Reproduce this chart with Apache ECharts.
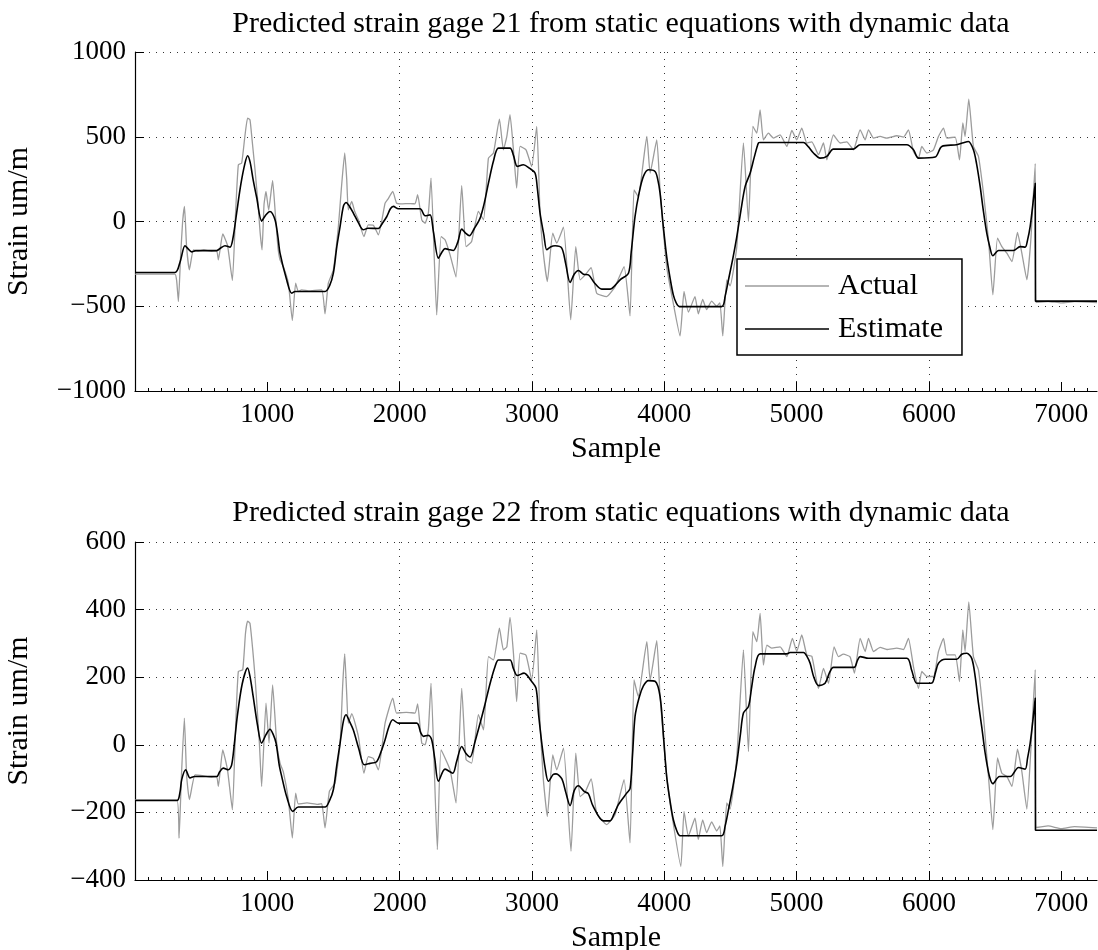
<!DOCTYPE html>
<html><head><meta charset="utf-8">
<script src="https://cdn.jsdelivr.net/npm/echarts@6/dist/echarts.min.js"></script>
<style>html,body{margin:0;padding:0;background:#fff}#c{width:1098px;height:950px}</style>
</head><body><div id="c"></div>
<script>
const titles = ["Predicted strain gage 21 from static equations with dynamic data",
                "Predicted strain gage 22 from static equations with dynamic data"];
const xTicks = [1000,2000,3000,4000,5000,6000,7000];
const topYTicks = [-1000,-500,0,500,1000];
const botYTicks = [-400,-200,0,200,400,600];

const top_estimate = [[0,-301],[302,-301],[340,-240],[378,-143],[400,-160],[428,-179],[460,-172],[617,-172],[650,-155],[680,-143],[718,-151],[740,-100],[768,50],[800,220],[830,340],[851,388],[870,350],[893,246],[920,140],[957,4],[990,40],[1020,59],[1058,10],[1080,-90],[1096,-187],[1146,-344],[1184,-423],[1210,-413],[1436,-413],[1470,-380],[1499,-305],[1525,-150],[1550,-29],[1575,90],[1595,112],[1620,90],[1650,50],[1690,-10],[1726,-49],[1760,-40],[1839,-41],[1870,-10],[1902,28],[1930,75],[1953,89],[1990,75],[2154,75],[2192,34],[2230,39],[2255,-60],[2293,-216],[2320,-180],[2343,-160],[2370,-165],[2406,-171],[2440,-120],[2469,-45],[2500,-70],[2527,-84],[2565,-40],[2608,20],[2640,110],[2671,226],[2710,360],[2747,433],[2834,433],[2860,390],[2889,325],[2935,335],[2980,315],[3023,286],[3040,200],[3061,50],[3090,-80],[3112,-167],[3140,-150],[3175,-143],[3225,-157],[3255,-250],[3288,-360],[3320,-310],[3351,-289],[3389,-311],[3427,-315],[3470,-360],[3527,-399],[3590,-399],[3630,-375],[3666,-344],[3729,-305],[3750,-180],[3779,30],[3810,170],[3842,266],[3880,305],[3930,295],[3950,250],[3968,167],[3990,-10],[4018,-207],[4045,-340],[4068,-433],[4090,-480],[4114,-502],[4434,-502],[4460,-440],[4485,-344],[4520,-210],[4548,-89],[4580,70],[4611,207],[4649,286],[4680,380],[4711,463],[4724,466],[5052,466],[5090,440],[5127,404],[5178,374],[5228,384],[5278,427],[5429,427],[5480,453],[5833,453],[5883,423],[5921,374],[6047,380],[6097,443],[6210,453],[6260,465],[6298,472],[6336,423],[6360,340],[6387,207],[6410,70],[6437,-69],[6460,-150],[6483,-202],[6526,-171],[6639,-171],[6689,-148],[6727,-151],[6745,-110],[6765,-29],[6785,100],[6803,226],[6805,-470],[7270,-470]];

const top_actual = [[0,-310],[302,-310],[315,-350],[328,-472],[345,-200],[360,0],[374,89],[390,-150],[411,-285],[441,-167],[470,-175],[520,-168],[580,-176],[617,-172],[630,-226],[663,-73],[699,-140],[736,-348],[760,50],[781,335],[806,344],[830,500],[851,610],[869,600],[885,480],[907,305],[930,100],[945,-60],[960,-167],[975,100],[990,177],[1010,67],[1040,242],[1060,50],[1080,-150],[1096,-226],[1121,-266],[1159,-364],[1189,-584],[1214,-364],[1234,-413],[1260,-403],[1320,-410],[1411,-403],[1436,-545],[1461,-364],[1499,-285],[1537,-29],[1560,200],[1585,404],[1600,250],[1612,69],[1638,118],[1660,60],[1688,10],[1730,-89],[1763,-20],[1801,-22],[1839,-79],[1890,108],[1910,130],[1948,177],[1977,108],[2010,104],[2080,106],[2116,104],[2136,158],[2167,10],[2192,-10],[2217,50],[2237,256],[2280,-551],[2313,-89],[2343,-108],[2381,-197],[2426,-328],[2469,211],[2502,-148],[2544,-118],[2595,59],[2634,10],[2671,374],[2709,404],[2754,604],[2784,423],[2810,502],[2834,630],[2860,423],[2884,197],[2910,443],[2955,423],[2998,325],[3036,561],[3061,50],[3086,-187],[3116,-354],[3157,-69],[3187,-128],[3238,-33],[3293,-580],[3331,-148],[3364,-344],[3402,-315],[3447,-272],[3489,-423],[3565,-443],[3628,-384],[3696,-266],[3741,-557],[3771,187],[3803,148],[3868,502],[3893,286],[3943,482],[3968,187],[4018,-266],[4063,-462],[4119,-675],[4149,-413],[4182,-535],[4232,-443],[4257,-545],[4290,-460],[4320,-520],[4358,-470],[4396,-500],[4420,-480],[4442,-675],[4472,-344],[4497,-380],[4548,-148],[4598,463],[4636,0],[4669,561],[4699,521],[4724,659],[4749,482],[4787,521],[4825,492],[4875,511],[4926,443],[4964,537],[5001,482],[5039,551],[5077,463],[5115,470],[5165,394],[5203,463],[5228,364],[5278,511],[5329,463],[5379,470],[5429,423],[5480,541],[5518,482],[5543,541],[5581,492],[5631,502],[5682,492],[5757,506],[5808,498],[5845,541],[5883,413],[5921,374],[5946,443],[5984,404],[6034,423],[6072,502],[6110,551],[6135,492],[6198,498],[6231,364],[6256,581],[6273,502],[6301,722],[6336,443],[6374,384],[6412,167],[6450,-108],[6483,-433],[6518,-98],[6551,-148],[6589,-187],[6627,-236],[6669,-65],[6702,-187],[6740,-344],[6770,-108],[6803,341],[6808,-478],[6900,-472],[7000,-480],[7100,-473],[7270,-478]];

const bot_estimate = [[0,-165],[316,-165],[340,-140],[353,-103],[383,-74],[416,-98],[450,-94],[617,-94],[640,-80],[667,-69],[705,-74],[730,-60],[750,0],[773,84],[810,180],[851,227],[870,200],[893,143],[925,60],[957,5],[990,30],[1020,46],[1045,30],[1066,5],[1090,-60],[1109,-94],[1146,-153],[1192,-197],[1234,-184],[1436,-184],[1470,-165],[1499,-133],[1525,-60],[1550,5],[1575,70],[1595,89],[1620,70],[1650,44],[1690,-10],[1733,-59],[1776,-55],[1826,-50],[1860,-20],[1890,15],[1920,55],[1948,74],[1990,64],[2129,64],[2160,35],[2179,25],[2217,28],[2242,15],[2265,-40],[2293,-108],[2343,-72],[2401,-84],[2430,-50],[2469,-5],[2500,-25],[2532,-36],[2570,10],[2608,64],[2645,120],[2684,182],[2720,230],[2747,251],[2834,251],[2860,225],[2889,205],[2940,212],[2998,187],[3031,167],[3050,90],[3074,5],[3100,-70],[3124,-108],[3160,-88],[3182,-86],[3225,-100],[3255,-140],[3288,-180],[3320,-135],[3351,-121],[3394,-138],[3427,-145],[3460,-180],[3540,-225],[3590,-225],[3620,-205],[3653,-177],[3716,-143],[3741,-130],[3760,-30],[3779,84],[3810,140],[3842,174],[3880,190],[3930,188],[3968,143],[3995,20],[4018,-94],[4045,-170],[4068,-221],[4095,-255],[4119,-269],[4434,-269],[4460,-240],[4485,-192],[4520,-120],[4548,-54],[4575,30],[4598,94],[4636,113],[4660,170],[4686,231],[4724,269],[4925,269],[4950,273],[5052,273],[5080,260],[5102,241],[5130,200],[5165,175],[5215,182],[5250,215],[5278,229],[5434,229],[5460,250],[5480,261],[5543,256],[5833,256],[5870,220],[5908,182],[5959,182],[6022,183],[6050,215],[6072,241],[6122,253],[6210,253],[6248,268],[6286,271],[6324,255],[6350,200],[6374,123],[6400,50],[6425,-25],[6455,-90],[6483,-115],[6533,-94],[6614,-94],[6677,-67],[6727,-72],[6745,-40],[6765,5],[6785,70],[6803,138],[6805,-253],[7270,-253]];

const bot_actual = [[0,-163],[316,-163],[333,-276],[350,-100],[373,79],[390,-90],[411,-162],[454,-89],[520,-92],[580,-96],[617,-94],[630,-123],[663,-15],[699,-74],[736,-192],[760,50],[781,217],[814,222],[835,330],[851,366],[869,359],[890,280],[907,202],[940,5],[957,-123],[990,123],[1013,5],[1040,177],[1071,5],[1096,-54],[1121,-80],[1159,-162],[1189,-276],[1214,-143],[1234,-175],[1300,-172],[1380,-176],[1411,-174],[1436,-246],[1469,-138],[1512,-113],[1550,5],[1570,180],[1585,269],[1600,150],[1612,64],[1638,92],[1688,25],[1730,-84],[1763,-35],[1801,-40],[1839,-74],[1890,64],[1948,138],[1977,94],[2050,96],[2116,94],[2136,121],[2167,5],[2192,0],[2217,46],[2237,182],[2285,-310],[2313,-15],[2381,-74],[2426,-172],[2469,167],[2502,-44],[2544,-54],[2595,89],[2634,44],[2671,261],[2709,251],[2754,345],[2784,281],[2810,290],[2834,377],[2860,271],[2884,128],[2910,271],[2955,265],[2998,192],[3036,340],[3061,64],[3086,-103],[3116,-212],[3157,-30],[3187,-74],[3238,-10],[3295,-315],[3331,-25],[3364,-153],[3402,-140],[3447,-101],[3489,-202],[3565,-236],[3628,-206],[3696,-103],[3741,-290],[3771,192],[3803,143],[3868,305],[3893,192],[3943,308],[3968,143],[4018,-94],[4063,-221],[4125,-360],[4149,-197],[4182,-270],[4232,-217],[4257,-280],[4290,-222],[4320,-260],[4358,-228],[4396,-255],[4420,-240],[4442,-360],[4472,-172],[4497,-190],[4548,-35],[4598,281],[4636,-20],[4669,335],[4699,305],[4724,389],[4749,236],[4775,295],[4812,286],[4875,290],[4926,261],[4968,315],[5001,276],[5039,325],[5077,266],[5115,262],[5165,167],[5203,226],[5241,182],[5283,290],[5316,261],[5354,268],[5404,260],[5437,212],[5480,315],[5518,276],[5543,315],[5581,276],[5631,288],[5682,282],[5757,286],[5808,282],[5845,315],[5883,231],[5921,167],[5946,217],[5984,202],[6034,202],[6072,276],[6110,315],[6135,266],[6198,266],[6231,187],[6256,340],[6273,276],[6301,423],[6336,261],[6374,222],[6412,84],[6450,-94],[6483,-251],[6518,-39],[6551,-84],[6589,-94],[6627,-123],[6669,-13],[6702,-79],[6740,-190],[6770,-15],[6803,222],[6808,-245],[6900,-240],[7000,-248],[7100,-242],[7270,-246]];

const FONT = "Liberation Serif";
const FS = 30;   // text
const FSN = 27;  // numbers
const fmtNum = v => (v < 0 ? "\u2212" + Math.abs(v) : String(v));

function xAxis(gi) {
  return {
    type: 'value', gridIndex: gi, min: 0, max: 7270, interval: 1000,
    name: 'Sample', nameLocation: 'middle', nameGap: 43,
    nameTextStyle: {fontFamily: FONT, fontSize: FS, color: '#000'},
    axisLine: {show: true, onZero: false, lineStyle: {color: '#000', width: 1.2}},
    axisTick: {show: true, inside: true, length: 9, lineStyle: {color: '#000'},
      customValues: xTicks},
    minorTick: {show: true, splitNumber: 10, length: 3, lineStyle: {color: '#000'}},
    axisLabel: {fontFamily: FONT, fontSize: FSN, color: '#000', margin: 10,
      customValues: xTicks, formatter: v => fmtNum(v)},
    splitLine: {show: true, showMinLine: false, showMaxLine: false,
      lineStyle: {color: '#333', width: 1, type: [1, 6]}},
    minorSplitLine: {show: false}
  };
}
function yAxis(gi, ticks) {
  return {
    type: 'value', gridIndex: gi, min: ticks[0], max: ticks[ticks.length-1],
    interval: ticks[1]-ticks[0],
    name: 'Strain um/m', nameLocation: 'middle', nameGap: 101, nameRotate: 90,
    nameTextStyle: {fontFamily: FONT, fontSize: FS, color: '#000'},
    axisLine: {show: true, onZero: false, lineStyle: {color: '#000', width: 1.2}},
    axisTick: {show: true, inside: true, length: 9, lineStyle: {color: '#000'}},
    axisLabel: {fontFamily: FONT, fontSize: FSN, color: '#000', margin: 9, formatter: v => fmtNum(v)},
    splitLine: {show: true, showMinLine: false,
      lineStyle: {color: '#333', width: 1, type: [1, 6]}}
  };
}
function series(name, data, gi, color, width, z, smooth) {
  return {type: 'line', name: name, data: data, xAxisIndex: gi, yAxisIndex: gi,
    symbol: 'none', showSymbol: false, smooth: smooth, z: z,
    lineStyle: {color: color, width: width}, itemStyle: {color: color},
    emphasis: {disabled: true}, animation: false};
}

const chart = echarts.init(document.getElementById('c'), null, {renderer: 'canvas'});
chart.setOption({
  backgroundColor: '#fff',
  animation: false,
  title: [
    {text: titles[0], left: 616, top: 4, textAlign: 'center',
     textStyle: {fontFamily: FONT, fontSize: FS, fontWeight: 'normal', color: '#000'}},
    {text: titles[1], left: 616, top: 493, textAlign: 'center',
     textStyle: {fontFamily: FONT, fontSize: FS, fontWeight: 'normal', color: '#000'}}
  ],
  grid: [
    {left: 135, top: 52, width: 962, height: 339, outerBoundsMode: 'none', containLabel: false},
    {left: 135, top: 542, width: 962, height: 338, outerBoundsMode: 'none', containLabel: false}
  ],
  xAxis: [xAxis(0), xAxis(1)],
  yAxis: [yAxis(0, topYTicks), yAxis(1, botYTicks)],
  legend: {
    data: [{name: 'Actual', icon: 'rect', itemStyle: {color: '#9c9c9c'}},
           {name: 'Estimate', icon: 'rect', itemStyle: {color: '#000'}}],
    orient: 'vertical', left: 737, top: 259,
    itemWidth: 84, itemHeight: 1.5, itemGap: 13,
    padding: [12, 19, 11, 8],
    backgroundColor: '#fff', borderColor: '#000', borderWidth: 1.5,
    textStyle: {fontFamily: FONT, fontSize: FS, lineHeight: 30, color: '#000', padding: [0, 0, 0, 4]},
    selectedMode: false
  },
  series: [
    series('Actual', top_actual, 0, '#9c9c9c', 1.3, 2, 0.15),
    series('Estimate', top_estimate, 0, '#000', 1.6, 3, 0.3),
    series('Actual', bot_actual, 1, '#9c9c9c', 1.3, 2, 0.15),
    series('Estimate', bot_estimate, 1, '#000', 1.6, 3, 0.3)
  ]
});
</script></body></html>
